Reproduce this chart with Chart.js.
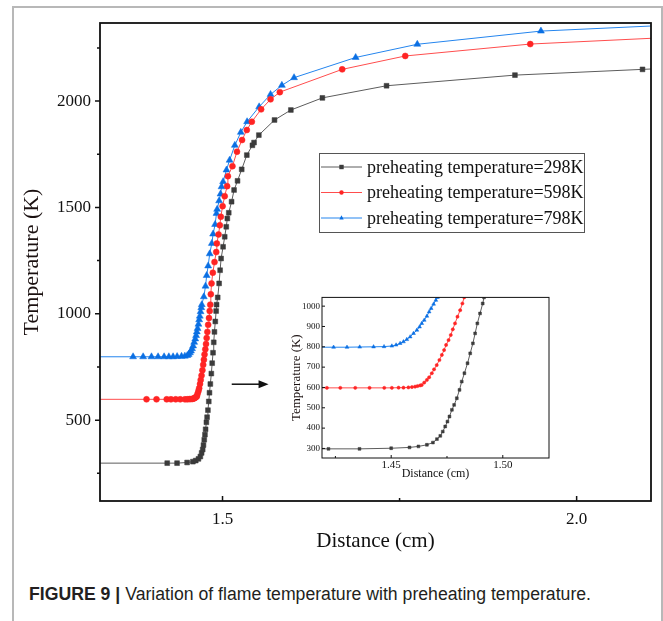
<!DOCTYPE html>
<html>
<head>
<meta charset="utf-8">
<title>Variation of flame temperature with preheating temperature</title>
<script src="https://cdn.jsdelivr.net/npm/chart.js@4.4.1/dist/chart.umd.min.js"></script>
<style>
  html, body { margin: 0; padding: 0; background: #fff; }
  body { width: 663px; height: 621px; position: relative; overflow: hidden; }
  .frame { position: absolute; left: 12px; top: 6px; width: 647px; height: 700px;
           border: 2px solid #b8b8b8; border-bottom: none; }
  #mainChart { position: absolute; left: 0; top: 0; }
  #insetChart { position: absolute; left: 280px; top: 290px; background: #fff; }
  .caption { position: absolute; left: 29px; top: 585px; white-space: nowrap;
             font-family: "Liberation Sans", Arial, sans-serif; font-size: 18px; line-height: 18px;
             color: #231f20; transform-origin: 0 0; }
</style>
</head>
<body>
<div class="frame"></div>
<canvas id="mainChart" width="663" height="560"></canvas>
<canvas id="insetChart" width="275" height="195"></canvas>
<div class="caption" id="caption"><b>FIGURE 9 |</b> Variation of flame temperature with preheating temperature.</div>

<script>
// DATA — distance from inlet (cm) and flame temperature (K)
const dist298 = [1.30, 1.4219, 1.4358, 1.4500, 1.4582, 1.4622, 1.4660, 1.4687, 1.4705, 1.4720, 1.4731, 1.4742,
  1.4752, 1.4761, 1.4772, 1.4782, 1.4794, 1.4806, 1.4816, 1.4828, 1.4842, 1.4854, 1.4866, 1.4876, 1.4886,
  1.4898, 1.4910, 1.4916, 1.4932, 1.4952, 1.4966, 1.4980, 1.5008, 1.5031, 1.5053, 1.5068, 1.5088, 1.5128,
  1.5163, 1.5212, 1.5271, 1.5343, 1.5422, 1.5445, 1.5513, 1.5734, 1.5965, 1.6410, 1.7316, 1.9129, 2.0930, 2.2500];
const temp298 = [298, 298, 298, 301, 305, 310, 318, 329, 346, 362, 383, 408,
  432, 457, 490, 514, 547, 588, 629, 670, 719, 768, 817, 866, 915,
  964, 1013, 1043, 1077, 1143, 1205, 1260, 1315, 1362, 1409, 1448, 1475, 1527,
  1582, 1625, 1679, 1746, 1792, 1805, 1840, 1911, 1958, 2015, 2072, 2122, 2149, 2172];

const dist598 = [1.30, 1.3927, 1.4068, 1.4212, 1.4272, 1.4339, 1.4403, 1.4469, 1.4503, 1.4533, 1.4555, 1.4577,
  1.4593, 1.4607, 1.4618, 1.4630, 1.4637, 1.4648, 1.4660, 1.4670, 1.4682, 1.4692, 1.4704, 1.4716, 1.4727,
  1.4737, 1.4746, 1.4757, 1.4767, 1.4776, 1.4786, 1.4797, 1.4809, 1.4819, 1.4827, 1.4835, 1.4845, 1.4863,
  1.4887, 1.4911, 1.4920, 1.4944, 1.4962, 1.4976, 1.5001, 1.5031, 1.5065, 1.5076, 1.5140, 1.5204, 1.5276,
  1.5343, 1.5414, 1.5545, 1.5678, 1.5809, 1.6690, 1.7580, 1.9345, 2.2500];
const temp598 = [598, 598, 598, 598, 598, 598, 598, 598, 598, 599, 599, 600,
  602, 604, 607, 610, 612, 624, 637, 650, 670, 689, 710, 735, 760,
  784, 809, 833, 858, 886, 915, 948, 980, 1013, 1043, 1092, 1143, 1193,
  1243, 1290, 1331, 1373, 1416, 1456, 1506, 1553, 1600, 1647, 1694, 1762, 1817,
  1864, 1903, 1961, 2008, 2042, 2149, 2212, 2268, 2318];

const dist798 = [1.30, 1.3737, 1.3879, 1.3997, 1.4090, 1.4175, 1.4242, 1.4302, 1.4359, 1.4421, 1.4468, 1.4503,
  1.4522, 1.4540, 1.4555, 1.4570, 1.4585, 1.4600, 1.4615, 1.4627, 1.4637, 1.4648, 1.4660, 1.4670, 1.4679,
  1.4690, 1.4700, 1.4707, 1.4736, 1.4760, 1.4776, 1.4797, 1.4819, 1.4849, 1.4867, 1.4895, 1.4915, 1.4924,
  1.4952, 1.4972, 1.4986, 1.5008, 1.5056, 1.5100, 1.5174, 1.5258, 1.5347, 1.5517, 1.5678, 1.5838, 1.6010,
  1.6880, 1.7750, 1.9496, 2.2500];
const temp798 = [798, 798, 798, 798, 798, 798, 798, 798, 799, 800, 801, 804,
  809, 817, 825, 836, 849, 866, 882, 898, 915, 931, 951, 972, 989,
  1010, 1029, 1043, 1080, 1130, 1180, 1225, 1282, 1331, 1375, 1420, 1472, 1491,
  1531, 1563, 1597, 1621, 1676, 1722, 1792, 1853, 1903, 1973, 2031, 2074, 2110,
  2205, 2267, 2329, 2375];

const seriesLabels = ["preheating temperature=298K", "preheating temperature=598K", "preheating temperature=798K"];

// tick values
const mainXTicks = [1.5, 2.0];
const mainXMinor = [1.75];
const mainYTicks = [500, 1000, 1500, 2000];
const mainYMinor = [250, 750, 1250, 1750, 2250];
const insetXTicks = [1.45, 1.50];
const insetXMinor = [1.425, 1.475];
const insetYTicks = [300, 400, 500, 600, 700, 800, 900, 1000];

// arrow pointing at the zoomed view (distance, temperature)
const arrowFrom = [1.513, 669];
const arrowTo = [1.565, 669];

// STYLES
const serif = '"Liberation Serif", "Times New Roman", serif';
const seriesStyle = [
  { line: "#5c5c5c", mark: "#3b3b3b", shape: "rect", r: 3.4, rInset: 2.0 },
  { line: "#ff4d4d", mark: "#ff2424", shape: "circle", r: 3.0, rInset: 1.6 },
  { line: "#2485ee", mark: "#0a6fe3", shape: "triangle", r: 4.0, rInset: 2.2 }
];
const allDist = [dist298, dist598, dist798];
const allTemp = [temp298, temp598, temp798];

Chart.defaults.font.family = serif;
Chart.defaults.color = "#111";

function buildDatasets(inset) {
  return allDist.map((d, i) => {
    const s = seriesStyle[i];
    return {
      label: seriesLabels[i],
      data: d.map((x, k) => ({ x: x, y: allTemp[i][k] })),
      showLine: true,
      borderColor: s.line,
      borderWidth: 1,
      pointStyle: s.shape,
      pointRadius: inset ? s.rInset : s.r,
      pointBackgroundColor: s.mark,
      pointBorderColor: s.mark,
      pointBorderWidth: 0.5,
      clip: 0
    };
  });
}

// FRAME + TICK MARKS (hand drawn so x ticks can point inwards)
function drawFrameAndTicks(chart, cfg) {
  const ctx = chart.ctx, a = chart.chartArea;
  const xs = chart.scales.x, ys = chart.scales.y;
  ctx.save();
  ctx.strokeStyle = "#111";
  ctx.lineWidth = cfg.tickWidth;
  ctx.beginPath();
  cfg.xMajor.forEach(v => { const p = xs.getPixelForValue(v); ctx.moveTo(p, a.bottom); ctx.lineTo(p, a.bottom + cfg.xDir * cfg.majorLen); });
  cfg.xMinor.forEach(v => { const p = xs.getPixelForValue(v); ctx.moveTo(p, a.bottom); ctx.lineTo(p, a.bottom + cfg.xDir * cfg.minorLen); });
  cfg.yMajor.forEach(v => { const p = ys.getPixelForValue(v); ctx.moveTo(a.left, p); ctx.lineTo(a.left + cfg.yDir * cfg.majorLen, p); });
  cfg.yMinor.forEach(v => { const p = ys.getPixelForValue(v); ctx.moveTo(a.left, p); ctx.lineTo(a.left + cfg.yDir * cfg.minorLen, p); });
  ctx.stroke();
  ctx.lineWidth = cfg.frameWidth;
  ctx.strokeRect(a.left, a.top, a.right - a.left, a.bottom - a.top);
  ctx.restore();
}

function drawMarker(ctx, shape, x, y, r) {
  ctx.beginPath();
  if (shape === "rect") ctx.rect(x - r, y - r, 2 * r, 2 * r);
  else if (shape === "circle") ctx.arc(x, y, r, 0, Math.PI * 2);
  else { ctx.moveTo(x, y - r * 1.2); ctx.lineTo(x + r, y + r * 0.7); ctx.lineTo(x - r, y + r * 0.7); ctx.closePath(); }
  ctx.fill();
}

// LEGEND BOX inside the plot
function drawLegend(chart) {
  const ctx = chart.ctx, a = chart.chartArea;
  const lx = a.left + 219, ly = a.top + 130, w = 265, h = 79;
  ctx.save();
  ctx.fillStyle = "#fff";
  ctx.fillRect(lx, ly, w, h);
  ctx.strokeStyle = "#555";
  ctx.lineWidth = 1;
  ctx.strokeRect(lx + 0.5, ly + 0.5, w, h);
  ctx.font = "18px " + serif;
  ctx.textBaseline = "middle";
  chart.data.datasets.forEach((ds, i) => {
    const s = seriesStyle[i];
    const y = ly + 14 + i * 25.5;
    ctx.strokeStyle = s.line;
    ctx.beginPath();
    ctx.moveTo(lx + 2, y);
    ctx.lineTo(lx + 43, y);
    ctx.stroke();
    ctx.fillStyle = s.mark;
    drawMarker(ctx, s.shape, lx + 22.5, y, 2.2);
    ctx.fillStyle = "#111";
    ctx.fillText(ds.label, lx + 48, y + 1);
  });
  ctx.restore();
}

function drawArrow(chart) {
  const ctx = chart.ctx, xs = chart.scales.x, ys = chart.scales.y;
  const x0 = xs.getPixelForValue(arrowFrom[0]), y0 = ys.getPixelForValue(arrowFrom[1]);
  const x1 = xs.getPixelForValue(arrowTo[0]), y1 = ys.getPixelForValue(arrowTo[1]);
  ctx.save();
  ctx.strokeStyle = "#111";
  ctx.fillStyle = "#111";
  ctx.lineWidth = 1.5;
  ctx.beginPath();
  ctx.moveTo(x0, y0);
  ctx.lineTo(x1 - 8, y1);
  ctx.stroke();
  ctx.beginPath();
  ctx.moveTo(x1, y1);
  ctx.lineTo(x1 - 10, y1 - 4);
  ctx.lineTo(x1 - 10, y1 + 4);
  ctx.closePath();
  ctx.fill();
  ctx.restore();
}

const mainDecor = {
  id: "mainDecor",
  afterDraw(chart) {
    drawFrameAndTicks(chart, { xMajor: mainXTicks, xMinor: mainXMinor, yMajor: mainYTicks, yMinor: mainYMinor,
      xDir: -1, yDir: -1, majorLen: 5, minorLen: 3, tickWidth: 1.5, frameWidth: 1.8 });
    drawLegend(chart);
    drawArrow(chart);
  }
};

const insetDecor = {
  id: "insetDecor",
  afterDraw(chart) {
    drawFrameAndTicks(chart, { xMajor: insetXTicks, xMinor: insetXMinor, yMajor: insetYTicks, yMinor: [],
      xDir: -1, yDir: 1, majorLen: 3, minorLen: 2, tickWidth: 1, frameWidth: 1 });
  }
};

const noGrid = { display: false, drawTicks: false };

// MAIN CHART
new Chart(document.getElementById("mainChart"), {
  type: "scatter",
  data: { datasets: buildDatasets(false) },
  plugins: [mainDecor],
  options: {
    responsive: false,
    animation: false,
    layout: { padding: { left: 0, top: 23, right: 12, bottom: 0 } },
    plugins: { legend: { display: false }, tooltip: { enabled: false } },
    scales: {
      x: {
        type: "linear", min: 1.327, max: 2.105,
        grid: noGrid, border: { display: false },
        afterBuildTicks: s => { s.ticks = mainXTicks.map(v => ({ value: v })); },
        afterFit: s => { s.height = 59; },
        ticks: { font: { size: 17 }, padding: 8, callback: v => v.toFixed(1) },
        title: { display: true, text: "Distance (cm)", font: { size: 21 }, padding: { top: 0, bottom: 6 } }
      },
      y: {
        type: "linear", min: 120, max: 2367,
        grid: noGrid, border: { display: false },
        afterBuildTicks: s => { s.ticks = mainYTicks.map(v => ({ value: v })); },
        afterFit: s => { s.width = 100; },
        ticks: { font: { size: 17 }, padding: 9, callback: v => String(v) },
        title: { display: true, text: "Temperature (K)", color: "#1a1010", font: { size: 22 }, padding: { top: 19, bottom: 0 } }
      }
    }
  }
});

// ZOOMED INSET
new Chart(document.getElementById("insetChart"), {
  type: "scatter",
  data: { datasets: buildDatasets(true) },
  plugins: [insetDecor],
  options: {
    responsive: false,
    animation: false,
    layout: { padding: { left: 0, top: 7, right: 6, bottom: 0 } },
    plugins: { legend: { display: false }, tooltip: { enabled: false } },
    scales: {
      x: {
        type: "linear", min: 1.419, max: 1.5207,
        grid: noGrid, border: { display: false },
        afterBuildTicks: s => { s.ticks = insetXTicks.map(v => ({ value: v })); },
        afterFit: s => { s.height = 27; },
        ticks: { font: { size: 11 }, padding: 1, callback: v => v.toFixed(2) },
        title: { display: true, text: "Distance (cm)", font: { size: 12 }, padding: { top: 0, bottom: 4 } }
      },
      y: {
        type: "linear", min: 253, max: 1043,
        grid: noGrid, border: { display: false },
        afterBuildTicks: s => { s.ticks = insetYTicks.map(v => ({ value: v })); },
        afterFit: s => { s.width = 42; },
        ticks: { font: { size: 9 }, padding: 2, autoSkip: false, callback: v => String(v) },
        title: { display: true, text: "Temperature (K)", color: "#1a1010", font: { size: 13 }, padding: { top: 9, bottom: 0 } }
      }
    }
  }
});

// CAPTION — condensed to the printed width
const cap = document.getElementById("caption");
const fitCaption = () => {
  cap.style.transform = "none";
  const w = cap.getBoundingClientRect().width;
  cap.style.transform = "scaleX(" + (562 / w) + ")";
};
fitCaption();
if (document.fonts) document.fonts.ready.then(fitCaption);
</script>
</body>
</html>
